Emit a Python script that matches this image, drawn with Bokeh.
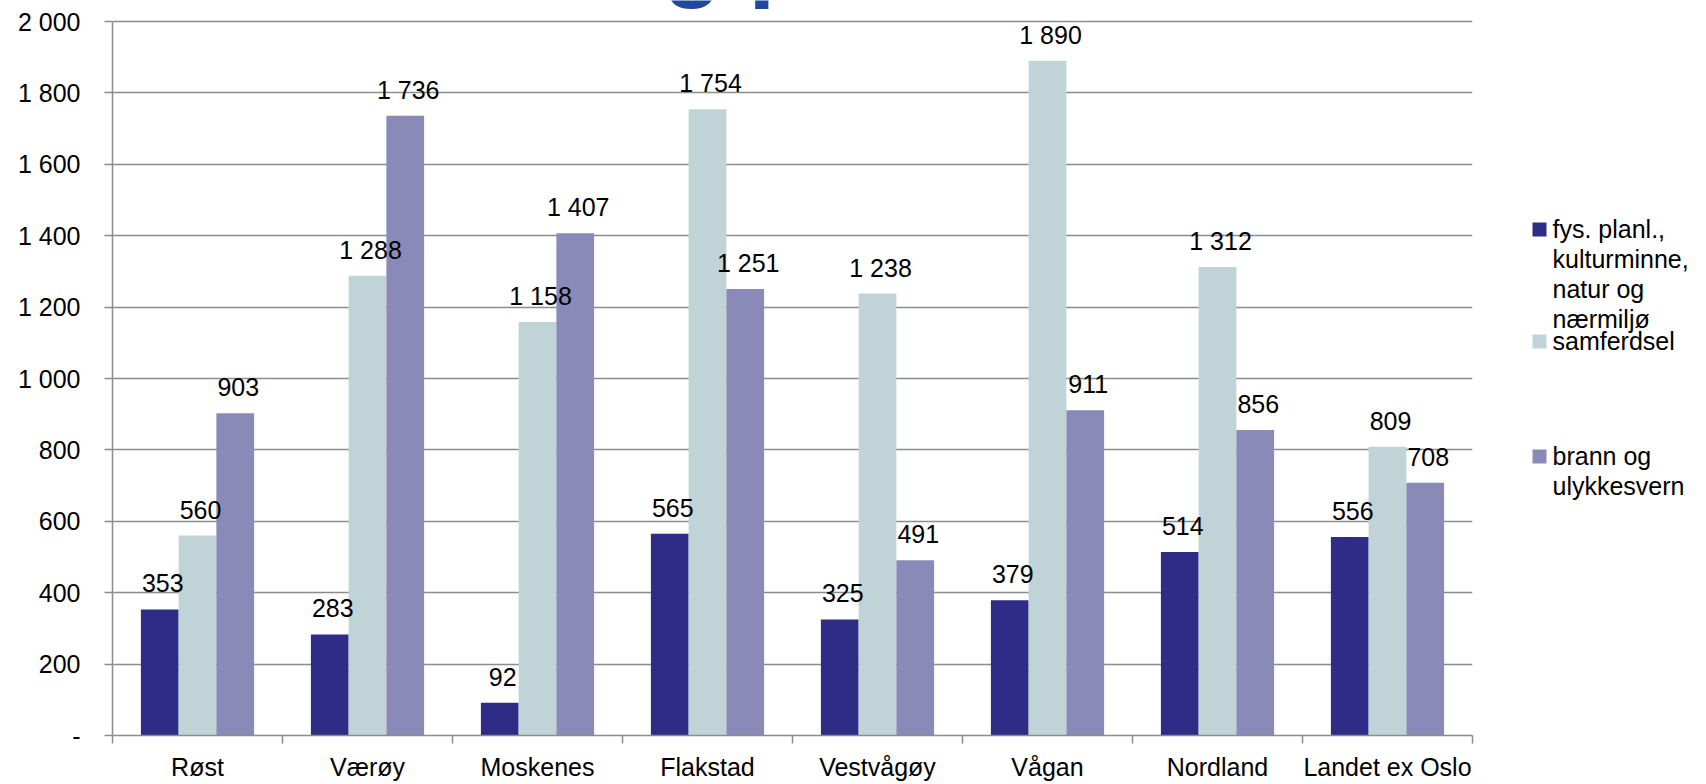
import numpy as np
from bokeh.plotting import figure
from bokeh.models import Range1d, FixedTicker
from bokeh.layouts import row
from bokeh.embed import file_html
from bokeh.resources import INLINE
from bokeh.core.properties import value

# Net operating expenditure per inhabitant, three service areas
categories = ["Røst", "Værøy", "Moskenes", "Flakstad", "Vestvågøy", "Vågan", "Nordland", "Landet ex Oslo"]
fys_planl = [353, 283, 92, 565, 325, 379, 514, 556]
samferdsel = [560, 1288, 1158, 1754, 1238, 1890, 1312, 809]
brann = [903, 1736, 1407, 1251, 491, 911, 856, 708]

series_values = [fys_planl, samferdsel, brann]
series_names = ["fys. planl.,\nkulturminne,\nnatur og\nnærmiljø", "samferdsel", "brann og\nulykkesvern"]
series_colors = ["#2E2C86", "#C0D3D6", "#8A8AB8"]

y_ticks = [0, 200, 400, 600, 800, 1000, 1200, 1400, 1600, 1800, 2000]
y_tick_labels = ["-", "200", "400", "600", "800", "1 000", "1 200", "1 400", "1 600", "1 800", "2 000"]

heading = "g p"

FONT = "Liberation Sans"
FS = "25px"
GRID = "#8C8C8C"

W, H = 1480, 784
LEG_W = 226
BOTTOM = 49            # space below the plot area for category labels
AXIS_TOP_PX = 21       # pixel row of the 2 000 grid line
y_max = y_ticks[-1]
y_end = y_max * (H - BOTTOM) / (H - BOTTOM - AXIS_TOP_PX)

n = len(categories)
centers = np.arange(n) + 0.5
bar_w = 0.222
offsets = [-bar_w, 0.0, bar_w]

p = figure(width=W, height=H, x_range=Range1d(0, n), y_range=Range1d(0, y_end),
           output_backend="svg", toolbar_location=None,
           min_border_left=112, min_border_right=8, min_border_top=0, min_border_bottom=BOTTOM)
p.outline_line_color = None
p.background_fill_color = "white"
p.border_fill_color = "white"

# bars first, value labels on top of all bars
for vals, off, col in zip(series_values, offsets, series_colors):
    p.vbar(x=centers + off, top=vals, bottom=0, width=bar_w, fill_color=col, line_color=None)
for vals, off in zip(series_values, offsets):
    p.text(x=centers + off, y=vals, text=[f"{v:,}".replace(",", " ") for v in vals],
           text_align="center", text_baseline="alphabetic", x_offset=3, y_offset=-26,
           text_font=value(FONT), text_font_size=FS, text_color="black")

# large blue heading running off the top edge
p.text(x=[3.24], y=[y_end - 8], text=[heading], text_align="left", text_baseline="alphabetic",
       y_offset=-48, text_font=value(FONT), text_font_size="96px", text_font_style="bold",
       text_color="#21499A")

# y axis with "-" for zero and space as thousands separator
p.yaxis.ticker = FixedTicker(ticks=y_ticks)
p.yaxis.major_label_overrides = dict(zip(y_ticks, y_tick_labels))
p.yaxis.bounds = (0, y_max)
p.yaxis.major_tick_out = 8
p.yaxis.major_tick_in = 0
p.yaxis.minor_tick_line_color = None
p.yaxis.major_label_standoff = 24

# x axis: labels at category centres, tick marks between categories
p.xaxis.ticker = FixedTicker(ticks=list(centers), minor_ticks=list(range(n + 1)))
p.xaxis.major_label_overrides = {float(c): lab for c, lab in zip(centers, categories)}
p.xaxis.minor_tick_out = 8
p.xaxis.minor_tick_in = 0
p.xaxis.major_label_standoff = 9

for ax in (p.xaxis, p.yaxis):
    ax.axis_line_color = GRID
    ax.axis_line_width = 1.5
    ax.major_tick_line_width = 1.5
    ax.minor_tick_line_width = 1.5
    ax.major_label_text_font = FONT
    ax.major_label_text_font_size = FS
    ax.major_label_text_color = "black"
p.yaxis.major_tick_line_color = GRID
p.xaxis.major_tick_line_color = None
p.xaxis.minor_tick_line_color = GRID

p.xgrid.visible = False
p.ygrid.grid_line_color = GRID
p.ygrid.grid_line_width = 1.5

# legend panel on the right; its frame lines up with the chart's frame,
# so the y range runs in page pixels from the top down to the x axis
lg = figure(width=LEG_W, height=H, x_range=Range1d(W, W + LEG_W), y_range=Range1d(H - BOTTOM, 0),
            output_backend="svg", toolbar_location=None, x_axis_type=None, y_axis_type=None,
            min_border_left=0, min_border_right=0, min_border_top=0, min_border_bottom=BOTTOM)
lg.outline_line_color = None
lg.grid.visible = False

first_baselines = [237, 349, 464]
line_step = 30
for name, col, base in zip(series_names, series_colors, first_baselines):
    lg.quad(left=[1532], right=[1546], top=[base - 15], bottom=[base - 1],
            fill_color=col, line_color=None)
    lines = name.split("\n")
    lg.text(x=[1552] * len(lines), y=[base + i * line_step for i in range(len(lines))], text=lines,
            text_align="left", text_baseline="alphabetic", y_offset=-9,
            text_font=value(FONT), text_font_size=FS, text_color="black")

layout = row(p, lg)
open("out.html", "w").write(file_html(layout, INLINE))
